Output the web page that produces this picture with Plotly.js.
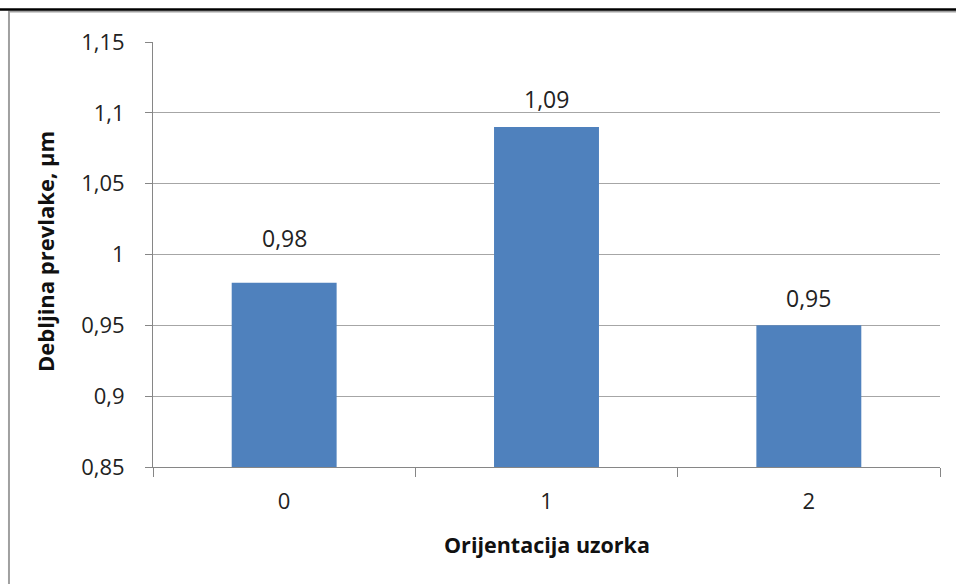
<!DOCTYPE html>
<html>
<head>
<meta charset="utf-8">
<script src="https://cdn.plot.ly/plotly-3.0.1.min.js"></script>
<style>html,body{margin:0;padding:0;background:#fff;}#chart{width:956px;height:584px;}</style>
</head>
<body>
<div id="chart"></div>
<script>
// Data
const categories = ['0', '1', '2'];
const thickness = [0.98, 1.09, 0.95];
const labelTexts = ['0,98', '1,09', '0,95'];
const yTickVals = [0.85, 0.9, 0.95, 1, 1.05, 1.1, 1.15];
const yTickText = ['0,85', '0,9', '0,95', '1', '1,05', '1,1', '1,15'];
const xTitle = 'Orijentacija uzorka';
const yTitle = 'Debljina prevlake, µm';

// Styling (label offsets in px above bar tops)
const labelShift = [45, 28, 27];
const FONT = 'Open Sans, Noto Sans, Liberation Sans, sans-serif';

const trace = {
  type: 'bar',
  x: categories,
  y: thickness,
  marker: {color: '#4f81bd', line: {width: 0}},
  width: 0.4,
  hoverinfo: 'none'
};

const annotations = categories.map((c, i) => ({
  x: c, y: thickness[i], xref: 'x', yref: 'y',
  text: labelTexts[i], showarrow: false,
  yanchor: 'middle', yshift: labelShift[i],
  font: {family: FONT, size: 23, color: '#222'}
}));
annotations.push({
  xref: 'paper', yref: 'paper', x: -0.1372, y: 0.506,
  text: '<b>' + yTitle + '</b>', textangle: -90, showarrow: false,
  xanchor: 'center', yanchor: 'middle',
  font: {family: FONT, size: 22, color: '#111'}
});
annotations.push({
  xref: 'paper', yref: 'paper', x: 0.5006, y: -0.1835,
  text: '<b>' + xTitle + '</b>', showarrow: false,
  xanchor: 'center', yanchor: 'middle',
  font: {family: FONT, size: 21.5, color: '#111'}
});

const layout = {
  width: 956, height: 584,
  margin: {l: 153, r: 16, t: 42, b: 117, pad: 0},
  paper_bgcolor: '#fff', plot_bgcolor: '#fff',
  separators: ', ',
  showlegend: false,
  font: {family: FONT, size: 22, color: '#222'},
  xaxis: {
    type: 'category',
    tickson: 'boundaries',
    ticks: 'outside', ticklen: 9, tickcolor: '#868686', tickwidth: 1,
    showline: true, linecolor: '#868686', linewidth: 1,
    showgrid: false, zeroline: false,
    ticklabelstandoff: 15,
    tickfont: {family: FONT, size: 22, color: '#222'}
  },
  yaxis: {
    range: [0.85, 1.15],
    tickvals: yTickVals, ticktext: yTickText,
    ticks: 'outside', ticklen: 7, tickcolor: '#868686', tickwidth: 1,
    showline: true, linecolor: '#868686', linewidth: 1,
    showgrid: true, gridcolor: '#a6a6a6', gridwidth: 1,
    zeroline: false,
    ticklabelstandoff: 16,
    tickfont: {family: FONT, size: 22, color: '#222'}
  },
  annotations: annotations,
  shapes: [
    {type: 'line', xref: 'paper', yref: 'paper', x0: -0.1842, x1: 1.0203, y0: 1.0718, y1: 1.0718,
     line: {color: '#a0a0a0', width: 2}},
    {type: 'line', xref: 'paper', yref: 'paper', x0: -0.183, x1: -0.183, y0: 1.0718, y1: -0.28,
     line: {color: '#a0a0a0', width: 2}},
    {type: 'line', xref: 'paper', yref: 'paper', x0: -0.2, x1: 1.03, y0: 1.0765, y1: 1.0765,
     line: {color: '#000', width: 2.5}}
  ]
};

Plotly.newPlot('chart', [trace], layout, {staticPlot: true, displayModeBar: false});
</script>
</body>
</html>
